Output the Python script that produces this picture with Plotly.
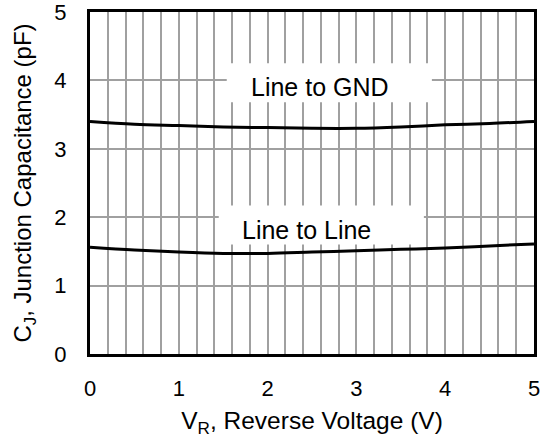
import plotly.graph_objects as go

# Data
vr = [0, 0.5, 1, 1.5, 2, 2.5, 3, 3.5, 4, 4.5, 5]
cj_line_to_gnd = [3.40, 3.36, 3.34, 3.32, 3.31, 3.30, 3.30, 3.32, 3.35, 3.37, 3.40]
cj_line_to_line = [1.56, 1.52, 1.49, 1.47, 1.47, 1.49, 1.51, 1.53, 1.55, 1.58, 1.61]

x_ticks = [0, 1, 2, 3, 4, 5]
y_ticks = [0, 1, 2, 3, 4, 5]

labels = ["Line to GND", "Line to Line"]
label_x = [2.585, 2.44]
label_y = [3.90, 1.81]
box_x0 = [1.54, 1.45]
box_x1 = [3.85, 3.76]
box_y0 = [3.68, 1.60]
box_y1 = [4.25, 2.17]

FONT = "Liberation Sans, Arial, sans-serif"

fig = go.Figure()
for ys in (cj_line_to_gnd, cj_line_to_line):
    fig.add_trace(go.Scatter(x=vr, y=ys, mode="lines",
                             line=dict(color="black", width=3, shape="spline"),
                             showlegend=False, hoverinfo="skip"))

for i, t in enumerate(labels):
    fig.add_shape(type="rect", xref="x", yref="y",
                  x0=box_x0[i], x1=box_x1[i], y0=box_y0[i], y1=box_y1[i],
                  fillcolor="white", line=dict(width=0), layer="between")
    fig.add_annotation(x=label_x[i], y=label_y[i], text=t, showarrow=False,
                       font=dict(family=FONT, size=25, color="black"))

fig.update_xaxes(range=[0, 5], tickvals=x_ticks, ticktext=[str(v) for v in x_ticks],
                 showgrid=True, gridcolor="#a0a0a0", gridwidth=2,
                 minor=dict(dtick=0.2, showgrid=True, gridcolor="#a0a0a0", gridwidth=2),
                 showline=True, linecolor="black", linewidth=3, mirror=True,
                 zeroline=False, ticks="", ticklabelstandoff=13, automargin=False,
                 ticklabeloverflow="allow",
                 tickfont=dict(family=FONT, size=22, color="black"),
                 title=dict(text="V<sub>R</sub>, Reverse Voltage (V)",
                            font=dict(family=FONT, size=24.5, color="black"), standoff=12))
fig.update_yaxes(range=[0, 5], tickvals=y_ticks, ticktext=[str(v) for v in y_ticks],
                 showgrid=True, gridcolor="#a0a0a0", gridwidth=2,
                 showline=True, linecolor="black", linewidth=3, mirror=True,
                 zeroline=False, ticks="", ticklabelstandoff=16, automargin=False,
                 ticklabeloverflow="allow",
                 tickfont=dict(family=FONT, size=22, color="black"),
                 title=dict(text="C<sub>J</sub>, Junction Capacitance (pF)",
                            font=dict(family=FONT, size=24, color="black"), standoff=16))

fig.update_layout(width=544, height=439, margin=dict(l=90, r=10, t=12, b=85),
                  plot_bgcolor="white", paper_bgcolor="white")

fig.write_html("out.html")
